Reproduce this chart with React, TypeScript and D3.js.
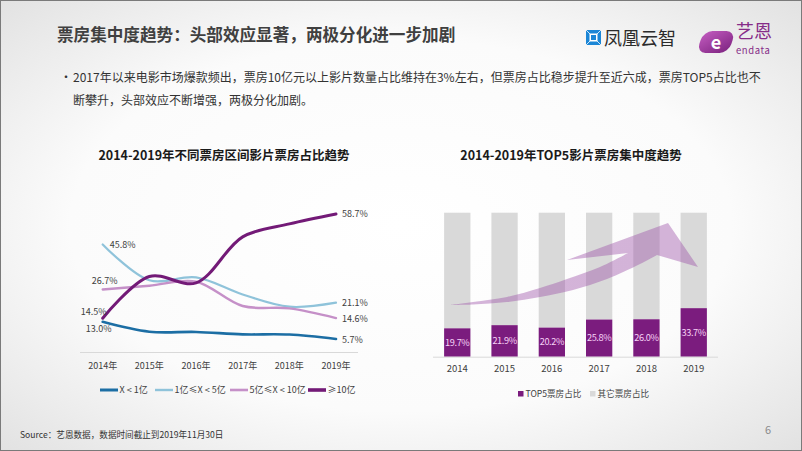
import React from "react";
import * as d3 from "d3";

// ---------- data ----------
const years = ["2014", "2015", "2016", "2017", "2018", "2019"];
const leftYearLabels = ["2014年", "2015年", "2016年", "2017年", "2018年", "2019年"];
const seriesNames = ["X < 1亿", "1亿≤X < 5亿", "5亿≤X < 10亿", "≥10亿"];
const under1 = [13.0, 8.8, 8.7, 7.7, 7.6, 5.7];
const from1to5 = [45.8, 30.6, 31.8, 24.6, 19.4, 21.1];
const from5to10 = [26.7, 28.3, 30.0, 19.7, 18.7, 14.6];
const over10 = [14.5, 32.2, 29.5, 49.0, 54.5, 58.7];
const top5Share = [19.7, 21.9, 20.2, 25.8, 26.0, 33.7];
const barLegend = ["TOP5票房占比", "其它票房占比"];

const FONT = "'Noto Sans CJK SC', 'Noto Sans', sans-serif";
const TEXT = "#404040";

const lineColors = ["#1c6ea4", "#8fc3da", "#c590c8", "#731a77"];
const lineWidths = [2.6, 2.2, 2.4, 3];
const legendWidths = [3, 2.4, 2.6, 3.6];
// label offsets for first/last point [dx, dy, anchor]
const firstLabelPos: [number, number, string][] = [
  [-4, 10.5, "middle"],
  [7, 3.5, "start"],
  [2, -5, "middle"],
  [-9, -3, "middle"],
];

export default function App() {
  const allSeries = [under1, from1to5, from5to10, over10];

  // left chart scales
  const xL = d3.scalePoint<string>().domain(years).range([102.7, 336]);
  const yL = d3.scaleLinear().domain([0, 60]).range([352.5, 352.5 - 60 * 2.36]);
  const line = d3
    .line<number>()
    .x((_, i) => xL(years[i])!)
    .y((d) => yL(d))
    .curve(d3.curveCatmullRom.alpha(0.5));

  // right chart scales
  const xR = d3.scaleBand<string>().domain(years).range([433, 718]).paddingInner(0.444).paddingOuter(0.235);
  const yR = d3.scaleLinear().domain([0, 100]).range([356.7, 212.7]);

  // decorative arrow
  const edge = d3.line().curve(d3.curveCatmullRom.alpha(0.5));
  const upper: [number, number][] = [
    [450, 305], [473, 302], [507, 297], [540, 288], [567, 279], [600, 267], [628, 253],
  ];
  const lower: [number, number][] = [
    [657, 255], [640, 264], [607, 279], [573, 290], [540, 297], [507, 302], [473, 304.5], [450, 305],
  ];
  const arrowD =
    edge(upper)! +
    "L567,260L668,223L698,267" +
    edge(lower)!.replace(/^M/, "L") +
    "Z";

  return (
    <svg width={802} height={451} style={{ display: "block", fontFamily: FONT }}>
      <style>{"body{margin:0}"}</style>
      <defs>
        <radialGradient id="bg" cx="50%" cy="50%" r="75%">
          <stop offset="0%" stopColor="#ffffff" />
          <stop offset="55%" stopColor="#fbfbfb" />
          <stop offset="100%" stopColor="#dedede" />
        </radialGradient>
        <linearGradient id="eGrad" x1="0" y1="0" x2="1" y2="1">
          <stop offset="0%" stopColor="#c25bbf" />
          <stop offset="100%" stopColor="#7d2380" />
        </linearGradient>
      </defs>
      <rect x={0} y={0} width={802} height={451} fill="url(#bg)" />
      <rect x={0.5} y={0.5} width={801} height={450} fill="none" stroke="#7a7a7a" strokeWidth={1} />

      {/* header */}
      <text x={57} y={41} fontSize={16.6} fontWeight="bold" fill={TEXT}>
        票房集中度趋势：头部效应显著，两极分化进一步加剧
      </text>

      {/* logo 1 */}
      <g>
        <rect x={586} y={30} width={15} height={15} fill="#1b86d6" />
        <rect x={589.5} y={33.5} width={8} height={8} fill="#ffffff" />
        <rect x={591} y={35} width={5} height={5} fill="#1b86d6" />
        <line x1={586} y1={30} x2={591} y2={35} stroke="#fff" strokeWidth={0.8} />
        <line x1={601} y1={30} x2={596} y2={35} stroke="#fff" strokeWidth={0.8} />
        <line x1={586} y1={45} x2={591} y2={40} stroke="#fff" strokeWidth={0.8} />
        <line x1={601} y1={45} x2={596} y2={40} stroke="#fff" strokeWidth={0.8} />
        <text x={604} y={45} fontSize={18} fill="#2b2b2b">凤凰云智</text>
      </g>
      {/* logo 2 */}
      <g>
        <g transform="translate(716,42) skewX(-18)">
          <rect x={-16} y={-11} width={32} height={22} rx={9} fill="url(#eGrad)" />
        </g>
        <text x={716} y={48.5} fontSize={18} fontWeight="bold" fill="#fff" textAnchor="middle">e</text>
        <text x={736} y={38} fontSize={18} fill="#862c88">艺恩</text>
        <text x={736} y={53.5} fontSize={9.5} fill="#862c88" letterSpacing={0.6}>endata</text>
      </g>

      {/* bullet */}
      <text x={60} y={82} fontSize={12} fill="#333">•</text>
      <text x={73} y={82} fontSize={12} fill="#333">
        2017年以来电影市场爆款频出，票房10亿元以上影片数量占比维持在3%左右，但票房占比稳步提升至近六成，票房TOP5占比也不
      </text>
      <text x={73} y={105} fontSize={12} fill="#333">
        断攀升，头部效应不断增强，两极分化加剧。
      </text>

      {/* ---------- left chart ---------- */}
      <text x={224} y={159.5} fontSize={12.5} fontWeight="bold" fill="#1a1a1a" textAnchor="middle">
        2014-2019年不同票房区间影片票房占比趋势
      </text>
      <line x1={80} x2={358} y1={yL(0)} y2={yL(0)} stroke="#d9d9d9" strokeWidth={1} />
      {leftYearLabels.map((t, i) => (
        <text key={t} x={xL(years[i])} y={369} fontSize={9} fill={TEXT} textAnchor="middle">
          {t}
        </text>
      ))}
      {allSeries.map((s, k) => (
        <path key={k} d={line(s)!} fill="none" stroke={lineColors[k]} strokeWidth={lineWidths[k]} strokeLinecap="round" />
      ))}
      {allSeries.map((s, k) => {
        const [dx, dy, anchor] = firstLabelPos[k];
        const last = s.length - 1;
        return (
          <g key={"lab" + k} fontSize={9} fill={TEXT}>
            <text x={xL(years[0])! + dx} y={yL(s[0]) + dy} textAnchor={anchor as any}>
              {s[0].toFixed(1)}%
            </text>
            <text x={xL(years[last])! + 6} y={yL(s[last]) + 3.5}>
              {s[last].toFixed(1)}%
            </text>
          </g>
        );
      })}
      {/* left legend */}
      {seriesNames.map((n, k) => {
        const starts = [100, 155, 230, 308];
        const x0 = starts[k];
        return (
          <g key={n}>
            <line x1={x0} x2={x0 + 18} y1={390} y2={390} stroke={lineColors[k]} strokeWidth={legendWidths[k]} />
            <text x={x0 + 19.5} y={393.3} fontSize={9} fill={TEXT}>{n}</text>
          </g>
        );
      })}

      {/* ---------- right chart ---------- */}
      <text x={571} y={159.5} fontSize={12.5} fontWeight="bold" fill="#1a1a1a" textAnchor="middle">
        2014-2019年TOP5影片票房集中度趋势
      </text>
      {years.map((y, i) => (
        <g key={y}>
          <rect x={xR(y)} y={yR(100)} width={xR.bandwidth()} height={yR(top5Share[i]) - yR(100)} fill="#d9d9d9" />
          <rect x={xR(y)} y={yR(top5Share[i])} width={xR.bandwidth()} height={yR(0) - yR(top5Share[i])} fill="#7b1c7e" />
        </g>
      ))}
      <path d={arrowD} fill="#9b4ea6" fillOpacity={0.42} />
      {years.map((y, i) => (
        <text
          key={"v" + y}
          x={xR(y)! + xR.bandwidth() / 2}
          y={(yR(top5Share[i]) + yR(0)) / 2 + 3.3}
          fontSize={9.2}
          letterSpacing={-0.4}
          fill="#f6d2f6"
          textAnchor="middle"
        >
          {top5Share[i].toFixed(1)}%
        </text>
      ))}
      <line x1={433} x2={718} y1={yR(0) + 0.5} y2={yR(0) + 0.5} stroke="#d9d9d9" strokeWidth={1} />
      {years.map((y) => (
        <text key={"x" + y} x={xR(y)! + xR.bandwidth() / 2} y={371.5} fontSize={9.5} fill={TEXT} textAnchor="middle">
          {y}
        </text>
      ))}
      {/* right legend */}
      <rect x={518} y={391} width={5.5} height={5.5} fill="#7b1c7e" />
      <text x={525.5} y={397} fontSize={8.6} fill={TEXT}>{barLegend[0]}</text>
      <rect x={590} y={391} width={5.5} height={5.5} fill="#d9d9d9" />
      <text x={597.5} y={397} fontSize={8.6} fill={TEXT}>{barLegend[1]}</text>

      {/* footer */}
      <text x={20} y={438} fontSize={8.6} fill="#333">Source：艺恩数据，数据时间截止到2019年11月30日</text>
      <text x={765} y={434} fontSize={11} fill="#8a8a8a">6</text>
    </svg>
  );
}
